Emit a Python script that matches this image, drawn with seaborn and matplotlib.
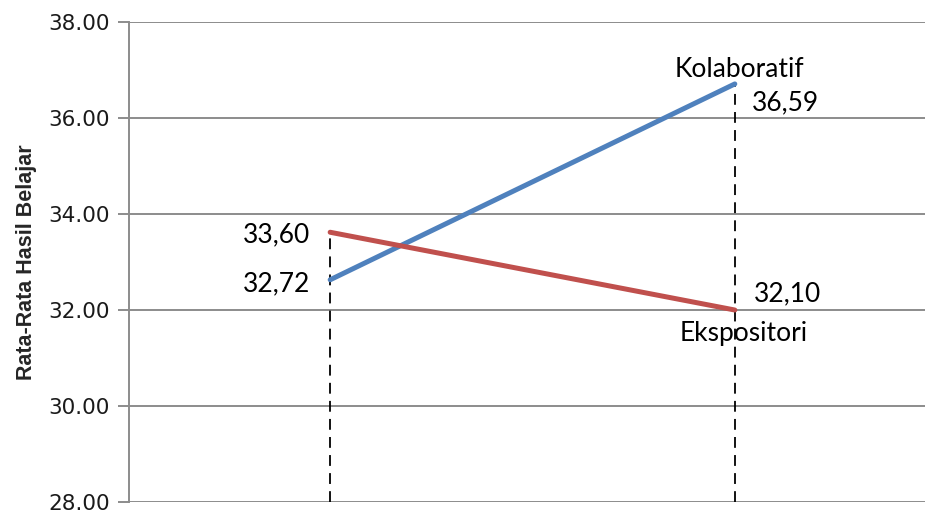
import pandas as pd
import seaborn as sns
import matplotlib.pyplot as plt

# Data (posisi garis seperti tergambar, label seperti tertulis)
posisi = [0, 1]
kolaboratif = [32.63, 36.71]
ekspositori = [33.62, 32.00]
label_kolaboratif = ["32,72", "36,59"]
label_ekspositori = ["33,60", "32,10"]
yticks = [28, 30, 32, 34, 36, 38]

df = pd.DataFrame({
    "posisi": posisi * 2,
    "nilai": kolaboratif + ekspositori,
    "metode": ["Kolaboratif"] * 2 + ["Ekspositori"] * 2,
})

sns.set_theme(style="white")
plt.rcParams["font.family"] = ["DejaVu Sans"]

fig = plt.figure(figsize=(9.25, 5.13), dpi=100)
ax = fig.add_axes([0.1395, 0.0214, 0.8605, 0.9357])

# Garis putus-putus vertikal dari titik tertinggi ke bawah
for i, x in enumerate(posisi):
    ax.vlines(x, 28, max(kolaboratif[i], ekspositori[i]), colors="black",
              linestyles=(0, (6, 4)), lw=1.3, zorder=2)

sns.lineplot(data=df, x="posisi", y="nilai", hue="metode",
             palette={"Kolaboratif": "#4F81BD", "Ekspositori": "#C0504D"},
             lw=3.6, legend=False, ax=ax, zorder=3)

ax.set_xlim(-0.497, 1.47)
ax.set_ylim(28, 38)
ax.set_yticks(yticks)
ax.set_yticklabels([f"{v:.2f}" for v in yticks], fontsize=15.5, color="#1a1a1a")
ax.set_xticks([])
ax.set_xlabel("")
ax.set_ylabel("Rata-Rata Hasil Belajar", fontsize=15.5, fontweight="bold",
              family=["Liberation Sans"], labelpad=8)

ax.yaxis.grid(True, color="#8c8c8c", lw=1.4)
ax.set_axisbelow(True)
for s in ["top", "right", "bottom"]:
    ax.spines[s].set_visible(False)
ax.spines["left"].set_color("#8c8c8c")
ax.spines["left"].set_linewidth(1.4)
ax.tick_params(axis="y", length=8, width=1.4, color="#8c8c8c", left=True, pad=6)

lab = dict(fontsize=19, family=["Lato"], color="black")
# label kiri
ax.annotate(label_ekspositori[0], (posisi[0], ekspositori[0]), xytext=(-20, -3),
            textcoords="offset pixels", ha="right", va="center", **lab)
ax.annotate(label_kolaboratif[0], (posisi[0], kolaboratif[0]), xytext=(-20, -4),
            textcoords="offset pixels", ha="right", va="center", **lab)
# label kanan
ax.annotate(label_kolaboratif[1], (posisi[1], kolaboratif[1]), xytext=(17, -19),
            textcoords="offset pixels", ha="left", va="center", **lab)
ax.annotate("Kolaboratif", (posisi[1], kolaboratif[1]), xytext=(5, 14),
            textcoords="offset pixels", ha="center", va="center", **lab)
ax.annotate(label_ekspositori[1], (posisi[1], ekspositori[1]), xytext=(19, 16),
            textcoords="offset pixels", ha="left", va="center", **lab)
ax.annotate("Ekspositori", (posisi[1], ekspositori[1]), xytext=(9, -23),
            textcoords="offset pixels", ha="center", va="center", **lab)

fig.savefig("out.png", dpi=100)
